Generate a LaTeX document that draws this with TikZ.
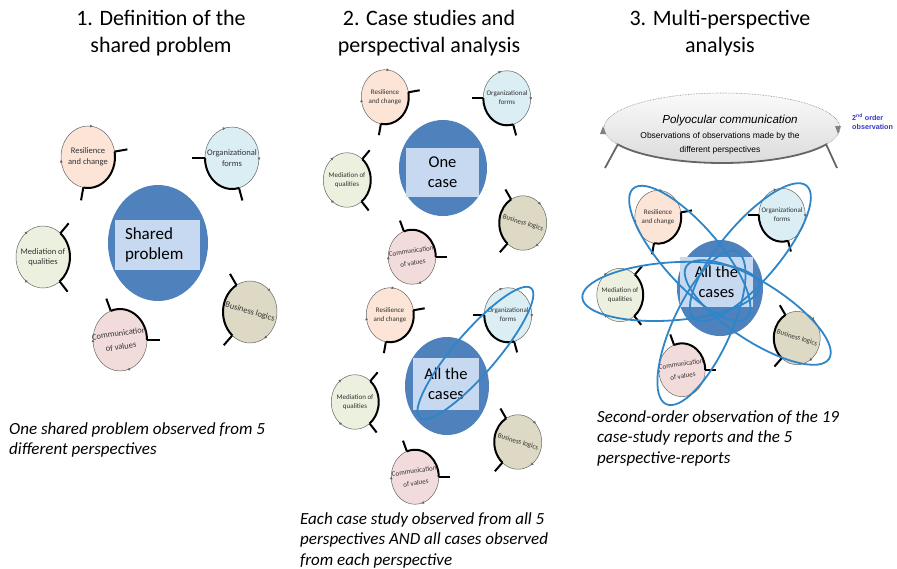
\documentclass[tikz,border=0pt]{standalone}
\usepackage{fontspec}
\setmainfont{Carlito}
\newfontfamily\arialf{Liberation Sans}
\usetikzlibrary{arrows.meta,decorations.markings,calc}
\definecolor{resC}{HTML}{FCE4D6}
\definecolor{orgC}{HTML}{DAEEF3}
\definecolor{medC}{HTML}{EBF1DE}
\definecolor{comC}{HTML}{F2DCDB}
\definecolor{busC}{HTML}{DDD9C4}
\definecolor{cblue}{HTML}{4F81BD}
\definecolor{crectC}{HTML}{C6D9F1}
\definecolor{ringblue}{HTML}{2E86C8}
\definecolor{obsblue}{RGB}{55,55,200}
\def\pfs{\fontsize{8.5}{10.5}\selectfont}
\newcommand{\pc}[9]{%
\begin{scope}[shift={(#2,#3)},scale=#4]
\path[fill=#5] (0,0) ellipse[x radius=27,y radius=31];
\draw[thinring] (#7:27 and 31) arc[start angle=#7,end angle={#6+360},x radius=27,y radius=31];
\draw[thickring] (#6:27 and 31) arc[start angle=#6,end angle=#7,x radius=27,y radius=31];
\draw[thickring] (#6:27 and 31) -- (#6:40 and 44);
\draw[thickring] (#7:27 and 31) -- (#7:40 and 44);
\node[plabel,rotate=#8] (#1) at (0,0) {#9};
\end{scope}}
\newcommand{\pRes}[4]{\pc{#1}{#2}{#3}{#4}{resC}{-10}{100}{0}{Resilience\\and change}}
\newcommand{\pOrg}[4]{\pc{#1}{#2}{#3}{#4}{orgC}{75}{180}{0}{Organizational\\forms}}
\newcommand{\pMed}[4]{\pc{#1}{#2}{#3}{#4}{medC}{-50}{52}{0}{Mediation of\\qualities}}
\newcommand{\pCom}[4]{\pc{#1}{#2}{#3}{#4}{comC}{-110}{0}{8}{Communication\\[3pt]of values}}
\newcommand{\pBus}[4]{\pc{#1}{#2}{#3}{#4}{busC}{131}{240}{-17}{Business logics}}
\begin{document}
\begin{tikzpicture}[x=1pt,y=-1pt,
  thinring/.style={draw=black!60,line width=0.5pt,postaction={decorate},
    decoration={markings,
      mark=at position 0.3 with {\arrow{Triangle[length=2.6pt,width=2.6pt]}},
      mark=at position 0.72 with {\arrow{Triangle[length=2.6pt,width=2.6pt]}}}},
  thickring/.style={draw=black,line width=2pt},
  plabel/.style={font=\pfs,align=center,text=black!80,inner sep=0pt},
  crect/.style={fill=crectC,inner sep=0pt,font=\fontsize{16.5}{20}\selectfont,align=center},
  title/.style={font=\fontsize{22}{27}\selectfont,align=center,inner sep=0pt},
  caption/.style={font=\fontsize{17}{20.5}\selectfont\itshape,align=left,inner sep=0pt,anchor=north west},
  bring/.style={draw=ringblue,line width=1.8pt}]
\useasboundingbox (0,0) rectangle (897,568);
\fill[white] (0,0) rectangle (897,568);

% titles
\node[title] (t1) at (161,33.5) {1. Definition of the\\shared problem};
\node[title] (t2) at (429,33.5) {2. Case studies and\\perspectival analysis};
\node[title] (t3) at (720,33.5) {3. Multi-perspective\\analysis};

% ---------- panel 1
\path[fill=cblue] (158,243) ellipse[x radius=50,y radius=58];
\node[crect,minimum width=85pt,minimum height=50pt,text width=65pt,align=left,inner xsep=10pt,font=\fontsize{17}{20}\selectfont] (sp) at (157.5,245) {Shared\\problem};
\def\pfs{\fontsize{8.5}{10.5}\selectfont}
\pRes{r1}{88}{157}{1}
\pOrg{o1}{232}{158}{1}
\pMed{m1}{43}{257}{1}
\pCom{c1}{120}{340}{1}
\pBus{b1}{250}{312}{1}
\node[caption] (cap1) at (9,422) {One shared problem observed from 5\\different perspectives};

% ---------- panel 2 upper
\path[fill=cblue] (443,168) ellipse[x radius=44,y radius=48];
\node[crect,minimum width=73pt,minimum height=49pt] (oc) at (442.5,172.5) {One\\case};
\def\pfs{\fontsize{7}{9}\selectfont}
\pRes{r2}{385}{97}{0.88}
\pOrg{o2}{507}{98}{0.88}
\pMed{m2}{347}{180}{0.88}
\pCom{c2}{412}{257}{0.88}
\pBus{b2}{523}{223}{0.88}

% ---------- panel 2 lower
\path[fill=cblue] (447,386) ellipse[x radius=42,y radius=49];
\node[crect,minimum width=66pt,minimum height=52pt] (ac2) at (446,384) {All the\\cases};
\pRes{r3}{390}{315}{0.88}
\pOrg{o3}{508}{315}{0.88}
\pMed{m3}{355}{402}{0.88}
\pCom{c3}{415}{477}{0.88}
\pBus{b3}{518}{442}{0.88}
\begin{scope}[shift={(447,386)}]
\draw[bring,rotate=49.3] (43.5,0) ellipse[x radius=85.5,y radius=21];
\end{scope}
\node[caption] (cap2) at (300,512) {Each case study observed from all 5\\perspectives AND all cases observed\\from each perspective};

% ---------- panel 3 top
\path[top color=gray!4,bottom color=gray!28,draw=gray,densely dotted,line width=0.6pt] (722,128) ellipse[x radius=118,y radius=35];
\fill[gray] (600,134) -- (606,134) -- (603,126) -- cycle;
\fill[gray] (835,126) -- (841,126) -- (838,134) -- cycle;
\draw[gray!80!black,line width=1.8pt] (605,168) -- ($(722,128)+(152:118 and 35)$) arc[start angle=152,end angle=28,x radius=118,y radius=35] -- (837,168);
\node[font=\arialf\fontsize{11.6}{13}\selectfont\itshape,inner sep=0pt] (poly) at (730,120) {Polyocular communication};
\node[font=\arialf\fontsize{8.5}{14.5}\selectfont,align=center,inner sep=0pt] (obs) at (720,143.5) {Observations of observations made by the\\different perspectives};
\node[font=\arialf\bfseries\fontsize{7.2}{8.5}\selectfont,text=obsblue,align=left,inner sep=0pt,anchor=north west] (ord) at (852,114) {2\textsuperscript{nd} order\\observation};

% ---------- panel 3 lower
\path[fill=cblue] (720,288) ellipse[x radius=43,y radius=48];
\node[crect,minimum width=73pt,minimum height=50pt] (ac3) at (716.5,282) {All the\\cases};
\pRes{r4}{658}{217}{0.86}
\pOrg{o4}{782}{215}{0.86}
\pMed{m4}{620}{295}{0.86}
\pCom{c4}{682}{370}{0.86}
\pBus{b4}{797}{338}{0.86}
\begin{scope}[shift={(720,288)}]
\foreach \r/\m/\a in {131.1/46/86, 49.7/47/87, -176/49/89, -114.9/44/84, -33/45/85}
  \draw[bring,rotate=\r] (\m,0) ellipse[x radius=\a,y radius=29];
\end{scope}
\node[caption] (cap3) at (597,410) {Second-order observation of the 19\\case-study reports and the 5\\perspective-reports};
\end{tikzpicture}
\end{document}
